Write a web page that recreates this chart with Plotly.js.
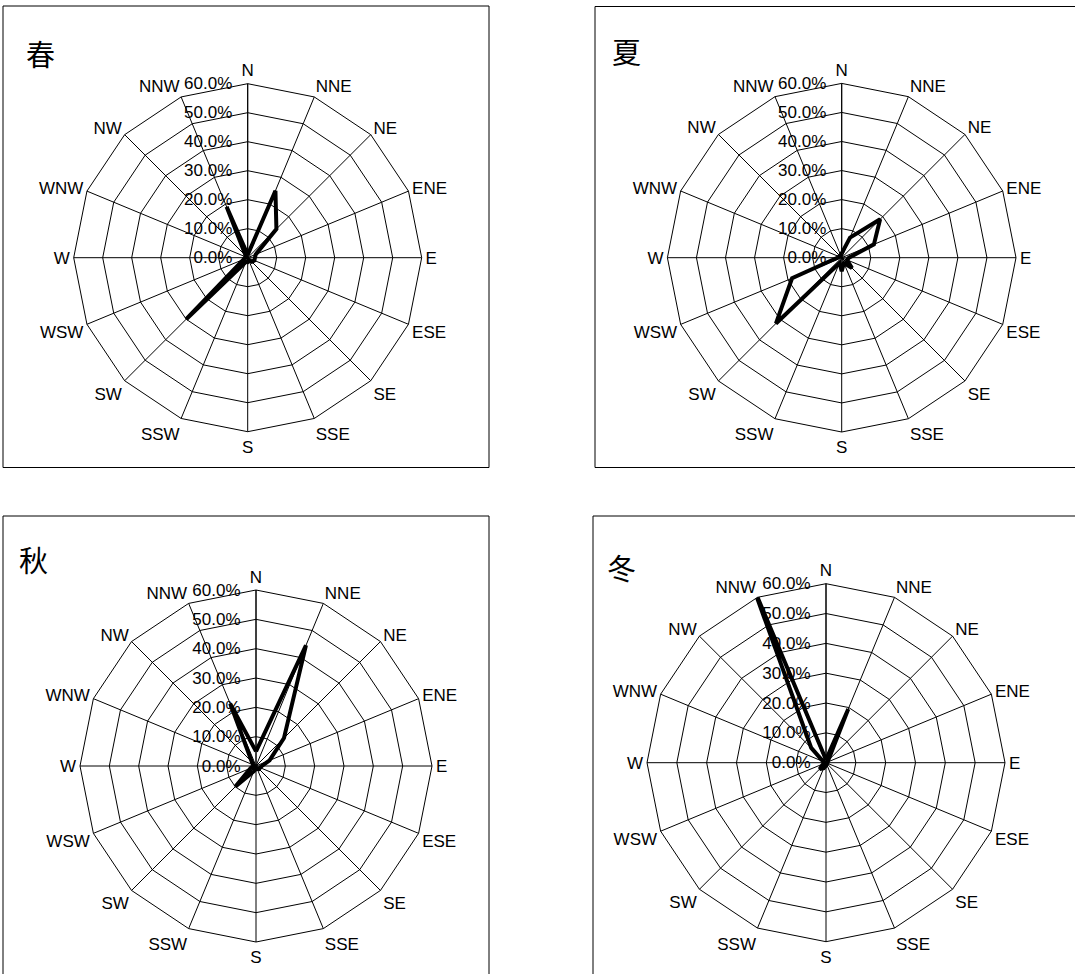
<!DOCTYPE html>
<html>
<head>
<meta charset="utf-8">
<script src="https://cdn.plot.ly/plotly-3.0.1.min.js"></script>
<style>html,body{margin:0;padding:0;background:#fff;}#chart{width:1075px;height:974px;}</style>
</head>
<body>
<div id="chart"></div>
<script>
// Directions (categories)
const directions = ["N","NNE","NE","ENE","E","ESE","SE","SSE","S","SSW","SW","WSW","W","WNW","NW","NNW"];
// Radial ticks (%)
const radialTicks = [0,10,20,30,40,50,60];
const radialTickText = radialTicks.map(v => v.toFixed(1) + "%");
// Season names
const seasons = ["春","夏","秋","冬"];
// Wind frequency (%) per direction
const spring = [1, 25, 14, 3, 2.5, 2.5, 2, 1, 1.5, 1.5, 30, 1.5, 1, 0.5, 1, 19];
const summer = [1.5, 7.5, 18.7, 12, 2.5, 2, 5, 2, 4.7, 2, 32, 18.5, 1.5, 1, 1, 1];
const autumn = [5, 44.5, 13.5, 5, 2, 1.5, 1.5, 1, 1, 2, 10, 2, 1, 1, 2, 23];
const winter = [1, 19.5, 1, 0.5, 0.5, 0.5, 0.5, 0.5, 1, 2, 3, 1, 0.5, 1, 7, 64];

const W = 1075, H = 974;
const seriesList = [spring, summer, autumn, winter];
// panel geometry in px: centre and radius of the polygon, box, title position
const panels = [
  {cx: 247.7, cy: 257.7, R: 174, box: [3, 6, 489, 467.5], tx: 24, ty: 53},
  {cx: 841.7, cy: 257.7, R: 174.3, box: [595, 6.5, 1085, 467.5], tx: 610, ty: 51},
  {cx: 256, cy: 766, R: 176, box: [3, 516, 489, 990], tx: 17, ty: 559},
  {cx: 826, cy: 762.7, R: 179, box: [593, 516, 1085, 990], tx: 605, ty: 567}
];

const font = "Liberation Sans, Arial, sans-serif";
const data = [];
const layout = {
  width: W, height: H,
  margin: {l: 0, r: 0, t: 0, b: 0},
  paper_bgcolor: "#fff",
  showlegend: false,
  shapes: [],
  annotations: []
};

panels.forEach((p, i) => {
  const key = i === 0 ? "polar" : "polar" + (i + 1);
  const vals = seriesList[i];
  data.push({
    type: "scatterpolar",
    subplot: key,
    r: vals.concat([vals[0]]),
    theta: directions.concat([directions[0]]),
    mode: "lines",
    line: {color: "#000", width: 4, shape: "linear"},
    cliponaxis: false,
    hoverinfo: "skip"
  });
  layout[key] = {
    domain: {
      x: [(p.cx - p.R) / W, (p.cx + p.R) / W],
      y: [1 - (p.cy + p.R) / H, 1 - (p.cy - p.R) / H]
    },
    bgcolor: "#fff",
    gridshape: "linear",
    radialaxis: {
      range: [0, 60],
      tickmode: "array",
      tickvals: radialTicks,
      ticktext: radialTickText,
      angle: 90,
      side: "counterclockwise",
      tickangle: 90,
      ticks: "outside",
      ticklen: 9,
      tickcolor: "rgba(0,0,0,0)",
      showline: true,
      linecolor: "#000",
      linewidth: 1,
      showgrid: true,
      gridcolor: "#000",
      gridwidth: 1,
      tickfont: {family: font, size: 17, color: "#000"}
    },
    angularaxis: {
      type: "category",
      categoryarray: directions,
      rotation: 90,
      direction: "clockwise",
      showline: true,
      linecolor: "#000",
      linewidth: 1,
      showgrid: true,
      gridcolor: "#000",
      gridwidth: 1,
      ticks: "",
      tickfont: {family: font, size: 17, color: "#000"}
    }
  };
  layout.shapes.push({
    type: "rect", xref: "paper", yref: "paper",
    x0: p.box[0] / W, x1: p.box[2] / W,
    y0: 1 - p.box[3] / H, y1: 1 - p.box[1] / H,
    line: {color: "#000", width: 1}, fillcolor: "rgba(0,0,0,0)", layer: "below"
  });
  layout.annotations.push({
    text: seasons[i], xref: "paper", yref: "paper",
    x: p.tx / W, y: 1 - p.ty / H, xanchor: "left", yanchor: "middle",
    showarrow: false,
    font: {family: "Noto Sans CJK SC", size: 29, color: "#000"}
  });
});

Plotly.newPlot("chart", data, layout, {staticPlot: true});
</script>
</body>
</html>
